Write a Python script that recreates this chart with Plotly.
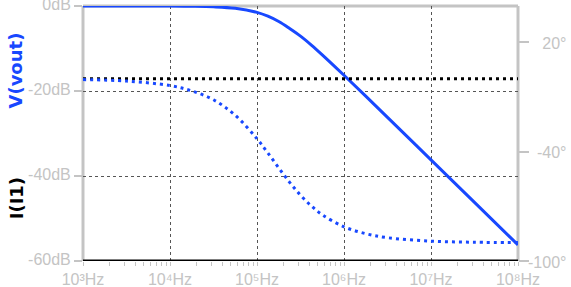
import plotly.graph_objects as go

# Frequencies (Hz) read along the sweep
freq = [1e3, 10**3.5, 1e4, 10**4.25, 10**4.5, 10**4.75, 1e5, 10**5.125, 10**5.25,
        10**5.375, 10**5.5, 10**5.625, 10**5.75, 1e6, 10**6.25, 10**6.5, 1e7, 10**7.5, 1e8]
# V(vout) magnitude (dB) and phase (deg)
vout_db = [0.0, 0.0, -0.02, -0.06, -0.18, -0.54, -1.5, -2.4, -3.65,
           -5.3, -7.1, -9.2, -11.5, -16.3, -21.2, -26.2, -36.2, -46.2, -56.2]
vout_ph = [-0.4, -1.2, -3.7, -6.6, -11.5, -20.0, -32.9, -40.7, -48.9,
           -56.8, -63.9, -69.8, -74.6, -81.2, -85.0, -87.2, -89.1, -89.7, -89.9]
# I(I1) magnitude (dB) and phase (deg)
i1_freq = [1e3, 1e8]
i1_db = [-60.0, -60.0]
i1_ph = [0.0, 0.0]

x_tickvals = [1e3, 1e4, 1e5, 1e6, 1e7, 1e8]
x_ticktext = ["10³Hz", "10⁴Hz", "10⁵Hz", "10⁶Hz", "10⁷Hz", "10⁸Hz"]
db_tickvals = [0, -20, -40, -60]
db_ticktext = ["0dB", "-20dB", "-40dB", "-60dB"]
ph_tickvals = [20, -40, -100]
ph_ticktext = ["20°", "-40°", "-100°"]
# invisible padding so every phase label has the width of "-100°" (right alignment)
ph_pad = ["-1", "1", ""]

BLUE = "#1848ff"
GRAY = "#c4c4c4"
TICKFONT = "Liberation Sans"
TITLEFONT = "DejaVu Sans"

fig = go.Figure()
fig.add_trace(go.Scatter(x=i1_freq, y=i1_ph, yaxis="y2", mode="lines",
                         line=dict(color="black", width=3, dash="3px,4px")))
fig.add_trace(go.Scatter(x=i1_freq, y=i1_db, mode="lines",
                         line=dict(color="black", width=3), cliponaxis=False))
fig.add_trace(go.Scatter(x=freq, y=vout_ph, yaxis="y2", mode="lines",
                         line=dict(color=BLUE, width=3, dash="3px,4px", shape="spline")))
fig.add_trace(go.Scatter(x=freq, y=vout_db, mode="lines",
                         line=dict(color=BLUE, width=3, shape="spline")))

fig.update_layout(
    width=571, height=287,
    margin=dict(l=83, r=53, t=6, b=26, autoexpand=False),
    paper_bgcolor="white", plot_bgcolor="white",
    showlegend=False,
    font=dict(family=TICKFONT, size=16, color=GRAY),
    xaxis=dict(type="log", range=[3, 8], tickvals=x_tickvals, ticktext=x_ticktext,
               automargin=False,
               showgrid=True, gridcolor="#555555", griddash="3px,3px", gridwidth=1,
               ticks="outside", ticklen=4, tickcolor=GRAY, tickwidth=1,
               tickfont=dict(size=16, color=GRAY, family=TICKFONT),
               minor=dict(ticks="outside", ticklen=4, tickcolor=GRAY, dtick="D1", showgrid=False),
               showline=False, zeroline=False),
    yaxis=dict(range=[-60, 0.001], tickvals=db_tickvals, ticktext=db_ticktext,
               automargin=False, ticklabeloverflow="allow", ticklabelshift=-2,
               showgrid=True, gridcolor="#555555", griddash="3px,3px", gridwidth=1,
               ticks="outside", ticklen=8, tickwidth=2, tickcolor=GRAY,
               tickfont=dict(size=16, color=GRAY, family=TICKFONT),
               showline=False, zeroline=False),
    yaxis2=dict(range=[-100, 40], overlaying="y", side="right",
                automargin=False,
                tickvals=ph_tickvals, showticklabels=False,
                showgrid=False, zeroline=False, showline=False,
                ticks="outside", ticklen=10, tickwidth=2, tickcolor=GRAY),
)

# right-aligned phase tick labels
for v, t, p in zip(ph_tickvals, ph_ticktext, ph_pad):
    label = (f"<span style='color:rgba(255,255,255,0)'>{p}</span>" if p else "") + t
    fig.add_annotation(text=label, xref="paper", yref="y2", x=1.1126, y=v,
                       xanchor="right", yanchor="middle", showarrow=False,
                       borderpad=0, yshift=-1,
                       font=dict(size=16, color=GRAY, family=TICKFONT))

# frame (left, top, right)
for x0, y0, x1, y1 in [(0, 0, 0, 1), (0, 1, 1, 1), (1, 0, 1, 1)]:
    fig.add_shape(type="line", xref="paper", yref="paper", x0=x0, y0=y0, x1=x1, y1=y1,
                  line=dict(color=GRAY, width=3), layer="below")

fig.add_annotation(text="<b>V(vout)</b>", xref="paper", yref="paper",
                   x=-0.154, y=0.747, textangle=-90, showarrow=False,
                   xanchor="center", yanchor="middle",
                   font=dict(size=18, color=BLUE, family=TITLEFONT))
fig.add_annotation(text="<b>I(I1)</b>", xref="paper", yref="paper",
                   x=-0.154, y=0.246, textangle=-90, showarrow=False,
                   xanchor="center", yanchor="middle",
                   font=dict(size=18, color="black", family=TITLEFONT))

fig.write_html("out.html")
